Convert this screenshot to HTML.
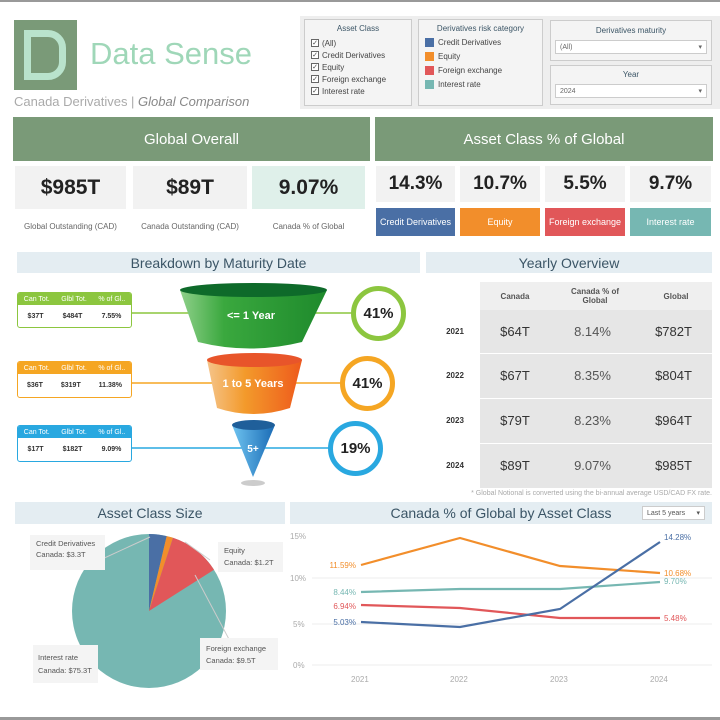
<!DOCTYPE html>
<html><head><meta charset="utf-8"><style>
*{margin:0;padding:0;box-sizing:border-box}
body{width:720px;height:720px;background:#fff;font-family:"Liberation Sans",sans-serif;position:relative;overflow:hidden;color:#333}
.a{position:absolute}
.c{display:flex;align-items:center;justify-content:center;text-align:center}
.hdr{background:#7a9a78;color:#fff;font-size:15px}
.kpi{background:#f2f2f2;font-weight:bold;font-size:21px;color:#222}
.lbl{font-size:8px;color:#666}
.sec{background:#e4edf2;color:#3b5566;font-size:14px}
.fbox{border:1.5px solid;border-radius:3px;background:#fff;font-size:7px;overflow:hidden}
.fbox .h{color:#fff;display:flex;justify-content:space-around;height:12px;align-items:center}
.fbox .v{display:flex;justify-content:space-around;align-items:center;height:22px;font-weight:bold;color:#333}
.circ{border-radius:50%;border:5px solid;background:#fff;font-weight:bold;font-size:15px;color:#222}
.flt{border:1px solid #ccc;background:#f4f4f4;font-size:8px;color:#444}
.cb{display:flex;align-items:center;gap:3px;height:12px}
.cb i{display:inline-block;width:8px;height:8px;border:1px solid #666;font-style:normal;font-size:7px;line-height:7px;text-align:center;background:#fff}
.sw{display:flex;align-items:center;gap:4px;height:14px}
.sw i{display:inline-block;width:9px;height:9px}
.dd{background:#fff;border:1px solid #ccc;height:14px;font-size:7px;color:#666;display:flex;justify-content:space-between;align-items:center;padding:0 4px}
</style></head><body>
<div class="a" style="left:0;top:0;width:720px;height:2px;background:#999"></div>
<div class="a" style="left:0;top:717px;width:720px;height:3px;background:#999"></div>
<!-- logo -->
<div class="a" style="left:14px;top:20px;width:63px;height:70px;background:#7a9a78"></div>
<div class="a" style="left:24px;top:30px;width:42px;height:50px;border:7px solid #b9e3cc;border-radius:0 18px 18px 0;border-left-width:7px"></div>
<div class="a" style="left:90px;top:36px;font-size:31px;color:#9fd7b8">Data Sense</div>
<div class="a" style="left:14px;top:94px;font-size:13px;color:#aaa">Canada Derivatives | <i style="color:#888">Global Comparison</i></div>
<!-- filters -->
<div class="a" style="left:300px;top:16px;width:420px;height:93px;background:#eee"></div>
<div class="a flt" style="left:304px;top:19px;width:108px;height:87px;padding:4px 6px">
<div style="text-align:center;color:#3b5566;margin-bottom:4px">Asset Class</div>
<div class="cb"><i>✓</i>(All)</div><div class="cb"><i>✓</i>Credit Derivatives</div><div class="cb"><i>✓</i>Equity</div><div class="cb"><i>✓</i>Foreign exchange</div><div class="cb"><i>✓</i>Interest rate</div></div>
<div class="a flt" style="left:418px;top:19px;width:125px;height:87px;padding:4px 6px">
<div style="text-align:center;color:#3b5566;margin-bottom:2px">Derivatives risk category</div>
<div class="sw"><i style="background:#4a6fa5"></i>Credit Derivatives</div><div class="sw"><i style="background:#f28e2b"></i>Equity</div><div class="sw"><i style="background:#e15759"></i>Foreign exchange</div><div class="sw"><i style="background:#76b7b2"></i>Interest rate</div></div>
<div class="a flt" style="left:550px;top:20px;width:162px;height:41px;padding:5px 4px">
<div style="text-align:center;color:#3b5566;margin-bottom:5px">Derivatives maturity</div><div class="dd"><span>(All)</span><span>▾</span></div></div>
<div class="a flt" style="left:550px;top:65px;width:162px;height:40px;padding:4px 4px">
<div style="text-align:center;color:#3b5566;margin-bottom:5px">Year</div><div class="dd"><span>2024</span><span>▾</span></div></div>
<!-- headers -->
<div class="a hdr c" style="left:13px;top:117px;width:357px;height:44px">Global Overall</div>
<div class="a hdr c" style="left:375px;top:117px;width:338px;height:44px">Asset Class % of Global</div>
<div class="a kpi c" style="left:15px;top:166px;width:111px;height:43px">$985T</div>
<div class="a kpi c" style="left:133px;top:166px;width:114px;height:43px">$89T</div>
<div class="a kpi c" style="left:252px;top:166px;width:113px;height:43px;background:#dff0ea">9.07%</div>
<div class="a lbl c" style="left:15px;top:222px;width:111px">Global Outstanding (CAD)</div>
<div class="a lbl c" style="left:133px;top:222px;width:114px">Canada Outstanding (CAD)</div>
<div class="a lbl c" style="left:252px;top:222px;width:113px">Canada % of Global</div>
<div class="a kpi c" style="left:376px;top:166px;width:79px;height:36px;font-size:19px">14.3%</div>
<div class="a kpi c" style="left:460px;top:166px;width:80px;height:36px;font-size:19px">10.7%</div>
<div class="a kpi c" style="left:545px;top:166px;width:80px;height:36px;font-size:19px">5.5%</div>
<div class="a kpi c" style="left:630px;top:166px;width:81px;height:36px;font-size:19px">9.7%</div>
<div class="a c" style="left:376px;top:208px;width:79px;height:28px;background:#4a6fa5;color:#fff;font-size:9px">Credit Derivatives</div>
<div class="a c" style="left:460px;top:208px;width:80px;height:28px;background:#f28e2b;color:#fff;font-size:9px">Equity</div>
<div class="a c" style="left:545px;top:208px;width:80px;height:28px;background:#e15759;color:#fff;font-size:9px">Foreign exchange</div>
<div class="a c" style="left:630px;top:208px;width:81px;height:28px;background:#76b7b2;color:#fff;font-size:9px">Interest rate</div>
<!-- section headers -->
<div class="a sec c" style="left:17px;top:252px;width:403px;height:21px">Breakdown by Maturity Date</div>
<div class="a sec c" style="left:426px;top:252px;width:286px;height:21px">Yearly Overview</div>
<!-- funnel -->
<svg class="a" style="left:0;top:280px" width="420" height="210">
<defs>
<linearGradient id="g1" x1="0" x2="1"><stop offset="0" stop-color="#8fd08a"/><stop offset=".3" stop-color="#3aa83e"/><stop offset="1" stop-color="#1e8a2c"/></linearGradient>
<linearGradient id="g2" x1="0" x2="1"><stop offset="0" stop-color="#f5c48a"/><stop offset=".4" stop-color="#f39a2b"/><stop offset="1" stop-color="#ee5a1c"/></linearGradient>
<linearGradient id="g3" x1="0" x2="1"><stop offset="0" stop-color="#6ec3f0"/><stop offset="1" stop-color="#1a6bb5"/></linearGradient>
</defs>
<line x1="132" y1="33" x2="360" y2="33" stroke="#8cc63f" stroke-width="1.5"/>
<line x1="132" y1="103" x2="345" y2="103" stroke="#f5a623" stroke-width="1.5"/>
<line x1="132" y1="168" x2="333" y2="168" stroke="#29a8e0" stroke-width="1.5"/>
<path d="M180 10 L198 62 Q250 75 302 62 L327 10 Z" fill="url(#g1)"/>
<ellipse cx="253.5" cy="10" rx="73.5" ry="7" fill="#0e6a2a"/>
<path d="M207 80 L217 128 Q253 140 290 128 L302 80 Z" fill="url(#g2)"/>
<ellipse cx="254.5" cy="80" rx="47.5" ry="7" fill="#e8552a"/>
<path d="M232 145 L253 197 L275 145 Z" fill="url(#g3)"/>
<ellipse cx="253.5" cy="145" rx="21.5" ry="5" fill="#1f5f9a"/>
<ellipse cx="253" cy="203" rx="12" ry="3" fill="#ccc"/>
<text x="251" y="39" fill="#fff" font-size="11" font-weight="bold" text-anchor="middle">&lt;= 1 Year</text>
<text x="253" y="107" fill="#fff" font-size="11" font-weight="bold" text-anchor="middle">1 to 5 Years</text>
<text x="253" y="172" fill="#fff" font-size="10" font-weight="bold" text-anchor="middle">5+</text>
</svg>
<div class="a fbox" style="left:17px;top:292px;width:115px;height:36px;border-color:#8cc63f"><div class="h" style="background:#8cc63f"><span>Can Tot.</span><span>Glbl Tot.</span><span>% of Gl..</span></div><div class="v"><span>$37T</span><span>$484T</span><span>7.55%</span></div></div>
<div class="a fbox" style="left:17px;top:361px;width:115px;height:37px;border-color:#f5a623"><div class="h" style="background:#f5a623"><span>Can Tot.</span><span>Glbl Tot.</span><span>% of Gl..</span></div><div class="v"><span>$36T</span><span>$319T</span><span>11.38%</span></div></div>
<div class="a fbox" style="left:17px;top:425px;width:115px;height:37px;border-color:#29a8e0"><div class="h" style="background:#29a8e0"><span>Can Tot.</span><span>Glbl Tot.</span><span>% of Gl..</span></div><div class="v"><span>$17T</span><span>$182T</span><span>9.09%</span></div></div>
<div class="a circ c" style="left:351px;top:286px;width:55px;height:55px;border-color:#8cc63f">41%</div>
<div class="a circ c" style="left:340px;top:356px;width:55px;height:55px;border-color:#f5a623">41%</div>
<div class="a circ c" style="left:328px;top:421px;width:55px;height:55px;border-color:#29a8e0">19%</div>
<!-- table -->
<div class="a" style="left:480px;top:282px;width:232px;height:206px;background:#efefef"></div>
<div class="a" style="left:480px;top:310px;width:232px;height:178px;background:#e6e6e6"></div>
<div class="a" style="left:480px;top:353px;width:232px;height:1px;background:#fff"></div>
<div class="a" style="left:480px;top:398px;width:232px;height:1px;background:#fff"></div>
<div class="a" style="left:480px;top:443px;width:232px;height:1px;background:#fff"></div>
<div class="a c" style="left:480px;top:282px;width:70px;height:28px;font-size:8px;font-weight:bold;color:#555">Canada</div>
<div class="a c" style="left:555px;top:282px;width:80px;height:28px;font-size:8px;font-weight:bold;color:#555">Canada % of<br>Global</div>
<div class="a c" style="left:640px;top:282px;width:72px;height:28px;font-size:8px;font-weight:bold;color:#555">Global</div>
<div class="a" style="left:430px;top:310px;width:282px;font-size:13px;color:#333">
<div style="display:flex;height:43px;align-items:center"><b style="font-size:8px;width:50px;text-align:center">2021</b><span style="width:70px;text-align:center">$64T</span><span style="width:85px;text-align:center;color:#555">8.14%</span><span style="width:77px;text-align:center">$782T</span></div>
<div style="display:flex;height:45px;align-items:center"><b style="font-size:8px;width:50px;text-align:center">2022</b><span style="width:70px;text-align:center">$67T</span><span style="width:85px;text-align:center;color:#555">8.35%</span><span style="width:77px;text-align:center">$804T</span></div>
<div style="display:flex;height:45px;align-items:center"><b style="font-size:8px;width:50px;text-align:center">2023</b><span style="width:70px;text-align:center">$79T</span><span style="width:85px;text-align:center;color:#555">8.23%</span><span style="width:77px;text-align:center">$964T</span></div>
<div style="display:flex;height:45px;align-items:center"><b style="font-size:8px;width:50px;text-align:center">2024</b><span style="width:70px;text-align:center">$89T</span><span style="width:85px;text-align:center;color:#555">9.07%</span><span style="width:77px;text-align:center">$985T</span></div>
</div>
<div class="a" style="left:440px;top:490px;width:272px;text-align:right;font-size:7px;color:#aaa">* Global Notional is converted using the bi-annual average USD/CAD FX rate.</div>
<!-- bottom sections -->
<div class="a sec c" style="left:15px;top:502px;width:270px;height:22px">Asset Class Size</div>
<div class="a sec c" style="left:290px;top:502px;width:422px;height:22px">Canada % of Global by Asset Class</div>
<div class="a dd" style="left:642px;top:506px;width:63px;height:14px;font-size:7px;color:#555"><span>Last 5 years</span><span>▾</span></div>
<svg class="a" style="left:0;top:525px" width="720" height="195">
<g transform="translate(149,86)">
<circle r="77" fill="#76b7b2"/>
<path d="M0 0 L0 -77 A77 77 0 0 1 17.7 -74.9 Z" fill="#4a6fa5"/>
<path d="M0 0 L17.7 -74.9 A77 77 0 0 1 24 -73.2 Z" fill="#f28e2b"/>
<path d="M0 0 L24 -73.2 A77 77 0 0 1 65 -41.3 Z" fill="#e15759"/>
</g>
<line x1="100" y1="35" x2="150" y2="12" stroke="#ccc"/>
<line x1="185" y1="17" x2="210" y2="35" stroke="#ccc"/>
<line x1="195" y1="50" x2="240" y2="135" stroke="#ccc"/>
<rect x="30" y="10" width="75" height="35" fill="#f4f4f4"/>
<text x="36" y="21" font-size="7.5" fill="#555">Credit Derivatives</text><text x="36" y="32" font-size="7.5" fill="#555">Canada: $3.3T</text>
<rect x="218" y="17" width="65" height="30" fill="#f4f4f4"/>
<text x="224" y="28" font-size="7.5" fill="#555">Equity</text><text x="224" y="40" font-size="7.5" fill="#555">Canada: $1.2T</text>
<rect x="200" y="113" width="78" height="32" fill="#f4f4f4"/>
<text x="206" y="126" font-size="7.5" fill="#555">Foreign exchange</text><text x="206" y="138" font-size="7.5" fill="#555">Canada: $9.5T</text>
<rect x="33" y="120" width="65" height="38" fill="#f4f4f4"/>
<text x="38" y="135" font-size="7.5" fill="#555">Interest rate</text><text x="38" y="148" font-size="7.5" fill="#555">Canada: $75.3T</text>
<g font-size="8" fill="#aaa">
<line x1="312" y1="53" x2="712" y2="53" stroke="#eee"/>
<line x1="312" y1="99" x2="712" y2="99" stroke="#eee"/>
<line x1="312" y1="140" x2="712" y2="140" stroke="#eee"/>
<text x="290" y="14">15%</text><text x="290" y="56">10%</text><text x="293" y="102">5%</text><text x="293" y="143">0%</text>
<text x="351" y="157">2021</text><text x="450" y="157">2022</text><text x="550" y="157">2023</text><text x="650" y="157">2024</text>
</g>
<g fill="none" stroke-width="2.2" transform="translate(0,-525)">
<polyline points="361,565 460,538 560,566 660,573" stroke="#f28e2b"/>
<polyline points="361,592 460,589 560,589 660,582" stroke="#76b7b2"/>
<polyline points="361,605 460,608 560,618 660,618" stroke="#e15759"/>
<polyline points="361,622 460,627 560,609 660,542" stroke="#4a6fa5"/>
</g>
<g font-size="8">
<text x="356" y="43" text-anchor="end" fill="#f28e2b">11.59%</text>
<text x="356" y="70" text-anchor="end" fill="#76b7b2">8.44%</text>
<text x="356" y="84" text-anchor="end" fill="#e15759">6.94%</text>
<text x="356" y="100" text-anchor="end" fill="#4a6fa5">5.03%</text>
<text x="664" y="15" fill="#4a6fa5">14.28%</text>
<text x="664" y="51" fill="#f28e2b">10.68%</text>
<text x="664" y="59" fill="#76b7b2">9.70%</text>
<text x="664" y="96" fill="#e15759">5.48%</text>
</g>
</svg>
</body></html>
